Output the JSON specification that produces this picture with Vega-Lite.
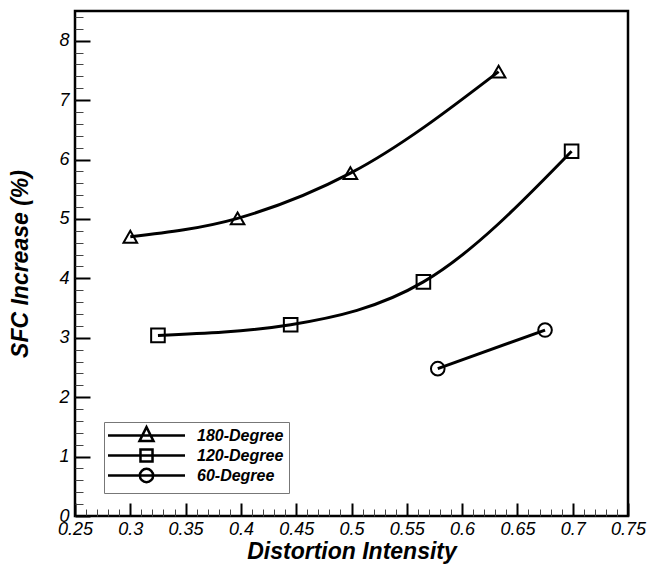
{
  "$schema": "https://vega.github.io/schema/vega-lite/v6.json",
  "width": 553,
  "height": 505,
  "autosize": {"type": "none"},
  "padding": {"left": 75, "top": 11, "right": 21, "bottom": 50},
  "background": "white",
  "config": {
    "view": {"stroke": "black", "strokeWidth": 2.5},
    "font": "Liberation Sans",
    "axis": {"grid": false, "labelFlush": false, "labelOverlap": false, "labelColor": "black", "titleColor": "black"}
  },
  "data": {"values": [
    {"series": "180-Degree", "x": 0.300, "y": 4.70},
    {"series": "180-Degree", "x": 0.397, "y": 5.01},
    {"series": "180-Degree", "x": 0.499, "y": 5.77},
    {"series": "180-Degree", "x": 0.633, "y": 7.48},
    {"series": "120-Degree", "x": 0.325, "y": 3.04},
    {"series": "120-Degree", "x": 0.445, "y": 3.22},
    {"series": "120-Degree", "x": 0.565, "y": 3.94},
    {"series": "120-Degree", "x": 0.699, "y": 6.14},
    {"series": "60-Degree", "x": 0.578, "y": 2.48},
    {"series": "60-Degree", "x": 0.675, "y": 3.13}
  ]},
  "resolve": {"axis": {"x": "independent", "y": "independent"}, "scale": {"shape": "independent"}},
  "layer": [
    {
      "mark": {"type": "point", "opacity": 0, "size": 196, "filled": false},
      "encoding": {
        "x": {"field": "x", "type": "quantitative",
          "scale": {"domain": [0.25, 0.75], "nice": false, "zero": false},
          "axis": {"orient": "bottom", "values": [0.25,0.26,0.27,0.28,0.29,0.3,0.31,0.32,0.33,0.34,0.35,0.36,0.37,0.38,0.39,0.4,0.41,0.42,0.43,0.44,0.45,0.46,0.47,0.48,0.49,0.5,0.51,0.52,0.53,0.54,0.55,0.56,0.57,0.58,0.59,0.6,0.61,0.62,0.63,0.64,0.65,0.66,0.67,0.68,0.69,0.7,0.71,0.72,0.73,0.74,0.75],
            "labels": false, "domain": false, "title": null, "tickSize": -7, "tickWidth": 1, "tickColor": "#444"}},
        "y": {"field": "y", "type": "quantitative",
          "scale": {"domain": [0, 8.5], "nice": false, "zero": false},
          "axis": {"orient": "left", "values": [0,0.2,0.4,0.6,0.8,1,1.2,1.4,1.6,1.8,2,2.2,2.4,2.6,2.8,3,3.2,3.4,3.6,3.8,4,4.2,4.4,4.6,4.8,5,5.2,5.4,5.6,5.8,6,6.2,6.4,6.6,6.8,7,7.2,7.4,7.6,7.8,8,8.2,8.4],
            "labels": false, "domain": false, "title": null, "tickSize": -8, "tickWidth": 1, "tickColor": "#444"}},
        "shape": {"field": "series", "type": "nominal",
          "scale": {"domain": ["180-Degree", "120-Degree", "60-Degree"],
            "range": ["M-5.5,0H5.5M0,-1.2L1,0.8L-1,0.8Z", "M-5.5,0H5.5M-0.86,-0.86H0.86V0.86H-0.86Z", "M-5.5,0H5.5M-0.95,0A0.95,0.95,0,1,1,0.95,0A0.95,0.95,0,1,1,-0.95,0Z"]},
          "legend": {
            "title": null, "orient": "none", "legendX": 29, "legendY": 411,
            "fillColor": "white", "strokeColor": "#777", "padding": 5,
            "symbolOffset": 29, "labelOffset": 42, "rowPadding": -4, "symbolSize": 196,
            "labelFont": "Liberation Sans", "labelFontSize": 16, "labelFontStyle": "italic", "labelFontWeight": "bold", "labelColor": "black",
            "encoding": {"symbols": {
              "size": {"value": 196},
              "stroke": {"value": "black"},
              "strokeWidth": {"value": 2.5},
              "fill": {"value": "transparent"},
              "opacity": {"value": 1}
            }}
          }}
      }
    },
    {
      "mark": {"type": "line", "interpolate": "monotone", "color": "black", "strokeWidth": 3},
      "encoding": {
        "x": {"field": "x", "type": "quantitative",
          "axis": {"orient": "bottom", "values": [0.25,0.3,0.35,0.4,0.45,0.5,0.55,0.6,0.65,0.7,0.75], "format": ".2~f",
            "ticks": false, "domain": false, "labelPadding": 4, "labelFont": "Liberation Sans", "labelFontSize": 18, "labelFontStyle": "italic",
            "title": "Distortion Intensity", "titleFont": "Liberation Sans", "titleFontSize": 23, "titleFontStyle": "italic", "titleFontWeight": "bold", "titlePadding": 2}},
        "y": {"field": "y", "type": "quantitative",
          "axis": {"orient": "left", "values": [0,1,2,3,4,5,6,7,8],
            "ticks": false, "domain": false, "labelPadding": 6, "labelFont": "Liberation Sans", "labelFontSize": 18, "labelFontStyle": "italic",
            "title": "SFC Increase (%)", "titleFont": "Liberation Sans", "titleFontSize": 23, "titleFontStyle": "italic", "titleFontWeight": "bold", "titlePadding": 26}},
        "detail": {"field": "series"}
      }
    },
    {
      "mark": {"type": "point", "filled": false, "size": 185, "strokeWidth": 2, "color": "black", "opacity": 1},
      "encoding": {
        "x": {"field": "x", "type": "quantitative",
          "axis": {"orient": "bottom", "values": [0.25,0.3,0.35,0.4,0.45,0.5,0.55,0.6,0.65,0.7,0.75],
            "labels": false, "domain": false, "title": null, "tickSize": -13, "tickWidth": 2, "tickColor": "black"}},
        "y": {"field": "y", "type": "quantitative",
          "axis": {"orient": "left", "values": [0,1,2,3,4,5,6,7,8],
            "labels": false, "domain": false, "title": null, "tickSize": -15, "tickWidth": 2, "tickColor": "black"}},
        "shape": {"field": "series", "type": "nominal",
          "scale": {"domain": ["180-Degree", "120-Degree", "60-Degree"], "range": ["triangle-up", "square", "circle"]},
          "legend": null}
      }
    }
  ]
}
